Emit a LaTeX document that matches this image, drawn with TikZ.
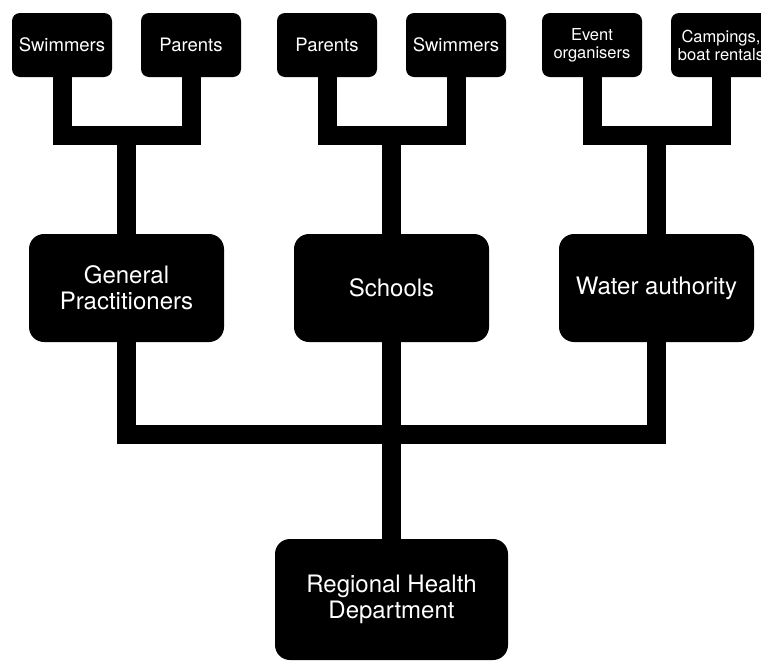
\documentclass[tikz,border=0pt]{standalone}
\usepackage{fontspec}
\setmainfont{TeX Gyre Heros}
\usetikzlibrary{trees}

\begin{document}
\begin{tikzpicture}[
                x=1pt, y=1pt,
                every node/.style={fill=black, text=white, align=center,
                    inner sep=0pt, outer sep=0pt, rounded corners=15pt,
                    minimum width=195pt, minimum height=108pt,
                    font=\fontsize{24}{26}\selectfont},
                edge from parent/.style={draw, line width=19pt},
                grow=up,
                level 1/.style={sibling distance=265pt, level distance=311.5pt,
                    edge from parent path={(\tikzparentnode.north) -- ++(0,105) -| (\tikzchildnode.south)}},
                level 2/.style={sibling distance=129pt, level distance=243pt,
                    every node/.append style={minimum width=100pt, minimum height=64pt,
                        rounded corners=8pt, font=\fontsize{18.5}{20}\selectfont},
                    edge from parent path={(\tikzparentnode.north) -- ++(0,99) -| (\tikzchildnode.south)}},
            ]
            \useasboundingbox (0,0) rectangle (761,-662);
            \clip (0,0) rectangle (761,-662);
            \node[minimum width=233pt, minimum height=121pt] (rhd) at (391.5,-599.5) {Regional Health\\Department}
            child {node (water) {Water authority}
                child {node[font=\fontsize{16.5}{18}\selectfont] (camp) {Campings,\\boat rentals}}
                child {node[font=\fontsize{16.5}{18}\selectfont] (event) {Event\\organisers}}
            }
            child {node (schools) {Schools}
                child {node (swim2) {Swimmers}}
                child {node (par2) {Parents}}
            }
            child {node (gp) {General\\Practitioners}
                child {node (par1) {Parents}}
                child {node (swim1) {Swimmers}}
            };
            \end{tikzpicture}
\end{document}
